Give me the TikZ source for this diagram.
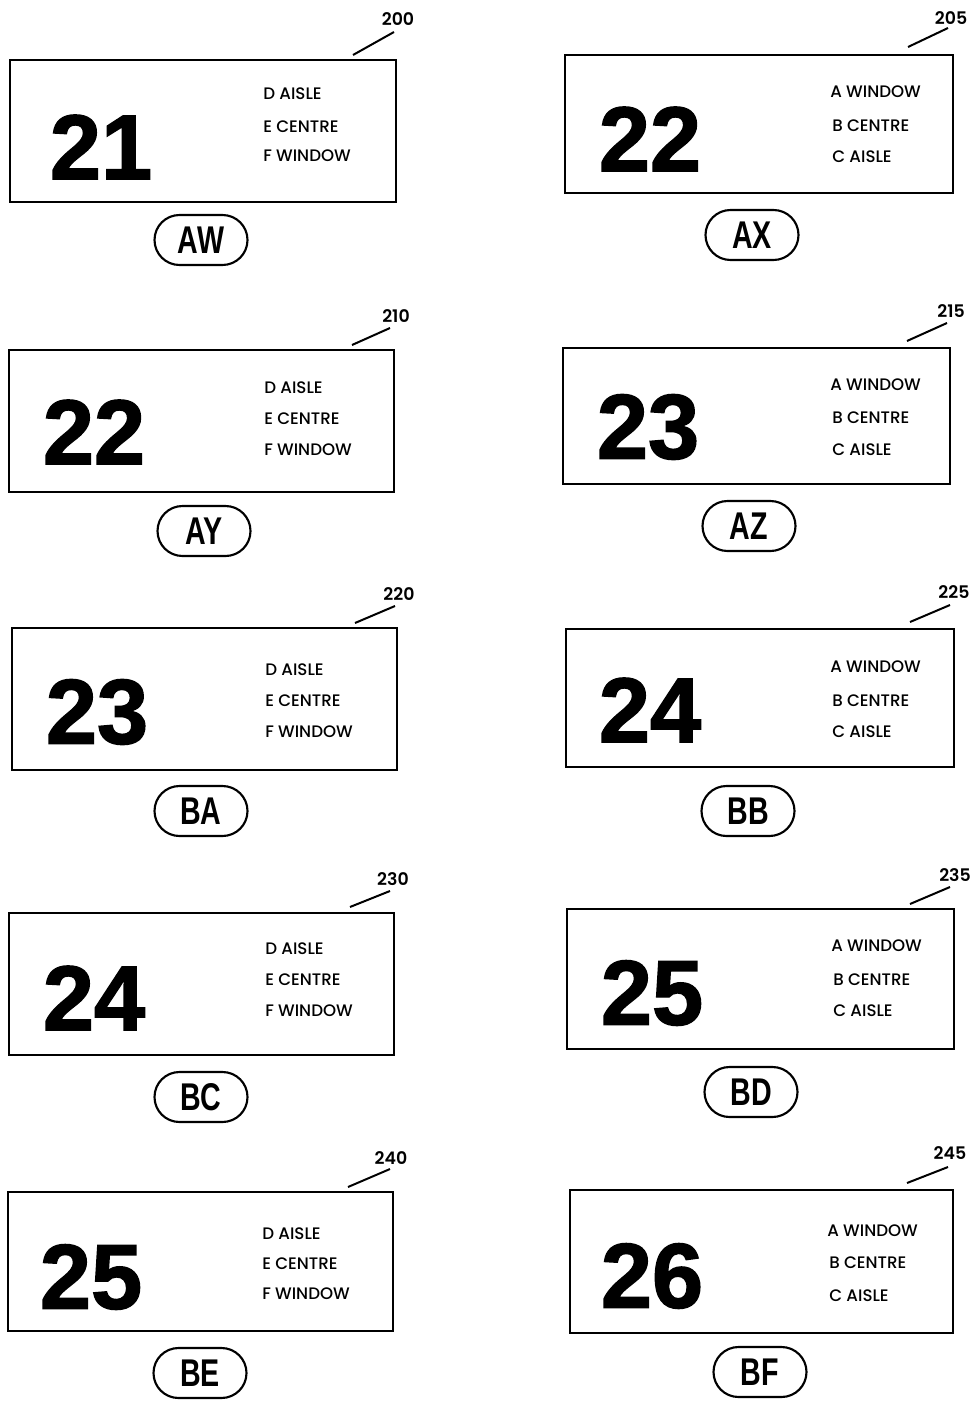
\documentclass[tikz,border=0pt]{standalone}
\usepackage{fontspec}
\usetikzlibrary{shapes.misc}
\newfontfamily\bigfont[FakeBold=1.6]{Liberation Sans Bold}
\newfontfamily\seatfnt{Poppins Medium}
\newfontfamily\reffnt{Poppins SemiBold}
\newfontfamily\tagfnt[FakeStretch=0.74]{Liberation Sans Bold}
\tikzset{
  pbox/.style 2 args={draw, line width=1.8pt, inner sep=0, minimum width=#1*0.75pt, minimum height=#2*0.75pt},
  bignum/.style={font=\bigfont\fontsize{69}{69}\selectfont, inner sep=0},
  seat/.style={anchor=west, font=\seatfnt\fontsize{12.5}{13}\selectfont, inner sep=0},
  refnum/.style={font=\reffnt\fontsize{13}{13}\selectfont, inner sep=0},
  leader/.style={line width=1.5pt},
  tag/.style={draw, line width=1.6pt, rounded rectangle, inner sep=0, minimum width=93*0.75pt, minimum height=50*0.75pt, font=\tagfnt\fontsize{29}{29}\selectfont}
}
\begin{document}
\begin{tikzpicture}[x=0.75pt,y=-0.75pt]
\useasboundingbox (0,0) rectangle (977,1402);
% ---------- panel 200
\node[pbox={386}{142}] (b200) at (203,131) {};
\node[bignum] (d200) at (101,147) {21};
\node[seat] (s200a) at (263,94) {D AISLE};
\node[seat] (s200b) at (263,127) {E CENTRE};
\node[seat] (s200c) at (263,156) {F WINDOW};
\node[refnum] (r200) at (398,19) {200};
\coordinate (l200a) at (353,55); \coordinate (l200b) at (394,32);
\draw[leader] (l200a) -- (l200b);
\node[tag] (t200) at (201,240) {AW};
% ---------- panel 205
\node[pbox={388}{138}] (b205) at (759,124) {};
\node[bignum] (d205) at (650,139) {22};
\node[seat] (s205a) at (830,92) {A WINDOW};
\node[seat] (s205b) at (832,126) {B CENTRE};
\node[seat] (s205c) at (832,157) {C AISLE};
\node[refnum] (r205) at (951,18) {205};
\coordinate (l205a) at (908,47); \coordinate (l205b) at (948,28);
\draw[leader] (l205a) -- (l205b);
\node[tag] (t205) at (752,235) {AX};
% ---------- panel 210
\node[pbox={385}{142}] (b210) at (201.5,421) {};
\node[bignum] (d210) at (94,432) {22};
\node[seat] (s210a) at (264,388) {D AISLE};
\node[seat] (s210b) at (264,419) {E CENTRE};
\node[seat] (s210c) at (264,450) {F WINDOW};
\node[refnum] (r210) at (396,316) {210};
\coordinate (l210a) at (352,345); \coordinate (l210b) at (390,328);
\draw[leader] (l210a) -- (l210b);
\node[tag] (t210) at (204,531) {AY};
% ---------- panel 215
\node[pbox={387}{136}] (b215) at (756.5,416) {};
\node[bignum] (d215) at (648,427) {23};
\node[seat] (s215a) at (830,385) {A WINDOW};
\node[seat] (s215b) at (832,418) {B CENTRE};
\node[seat] (s215c) at (832,450) {C AISLE};
\node[refnum] (r215) at (951,311) {215};
\coordinate (l215a) at (907,341); \coordinate (l215b) at (947,323);
\draw[leader] (l215a) -- (l215b);
\node[tag] (t215) at (749,526) {AZ};
% ---------- panel 220
\node[pbox={385}{142}] (b220) at (204.5,699) {};
\node[bignum] (d220) at (97,712) {23};
\node[seat] (s220a) at (265,670) {D AISLE};
\node[seat] (s220b) at (265,701) {E CENTRE};
\node[seat] (s220c) at (265,732) {F WINDOW};
\node[refnum] (r220) at (399,594) {220};
\coordinate (l220a) at (355,623); \coordinate (l220b) at (395,606);
\draw[leader] (l220a) -- (l220b);
\node[tag] (t220) at (201,811) {BA};
% ---------- panel 225
\node[pbox={388}{138}] (b225) at (760,698) {};
\node[bignum] (d225) at (650,710) {24};
\node[seat] (s225a) at (830,667) {A WINDOW};
\node[seat] (s225b) at (832,701) {B CENTRE};
\node[seat] (s225c) at (832,732) {C AISLE};
\node[refnum] (r225) at (954,592) {225};
\coordinate (l225a) at (910,622); \coordinate (l225b) at (950,605);
\draw[leader] (l225a) -- (l225b);
\node[tag] (t225) at (748,811) {BB};
% ---------- panel 230
\node[pbox={385}{142}] (b230) at (201.5,984) {};
\node[bignum] (d230) at (94,998) {24};
\node[seat] (s230a) at (265,949) {D AISLE};
\node[seat] (s230b) at (265,980) {E CENTRE};
\node[seat] (s230c) at (265,1011) {F WINDOW};
\node[refnum] (r230) at (393,879) {230};
\coordinate (l230a) at (350,907); \coordinate (l230b) at (390,891);
\draw[leader] (l230a) -- (l230b);
\node[tag] (t230) at (201,1097) {BC};
% ---------- panel 235
\node[pbox={387}{140}] (b235) at (760.5,979) {};
\node[bignum] (d235) at (652,993) {25};
\node[seat] (s235a) at (831,946) {A WINDOW};
\node[seat] (s235b) at (833,980) {B CENTRE};
\node[seat] (s235c) at (833,1011) {C AISLE};
\node[refnum] (r235) at (955,875) {235};
\coordinate (l235a) at (910,904); \coordinate (l235b) at (950,887);
\draw[leader] (l235a) -- (l235b);
\node[tag] (t235) at (751,1092) {BD};
% ---------- panel 240
\node[pbox={385}{139}] (b240) at (200.5,1261.5) {};
\node[bignum] (d240) at (91,1277) {25};
\node[seat] (s240a) at (262,1234) {D AISLE};
\node[seat] (s240b) at (262,1264) {E CENTRE};
\node[seat] (s240c) at (262,1294) {F WINDOW};
\node[refnum] (r240) at (391,1158) {240};
\coordinate (l240a) at (348,1187); \coordinate (l240b) at (390,1169);
\draw[leader] (l240a) -- (l240b);
\node[tag] (t240) at (200,1373) {BE};
% ---------- panel 245
\node[pbox={383}{143}] (b245) at (761.5,1261.5) {};
\node[bignum] (d245) at (652,1276) {26};
\node[seat] (s245a) at (827,1231) {A WINDOW};
\node[seat] (s245b) at (829,1263) {B CENTRE};
\node[seat] (s245c) at (829,1296) {C AISLE};
\node[refnum] (r245) at (950,1153) {245};
\coordinate (l245a) at (907,1183); \coordinate (l245b) at (948,1167);
\draw[leader] (l245a) -- (l245b);
\node[tag] (t245) at (760,1372) {BF};
\end{tikzpicture}
\end{document}
